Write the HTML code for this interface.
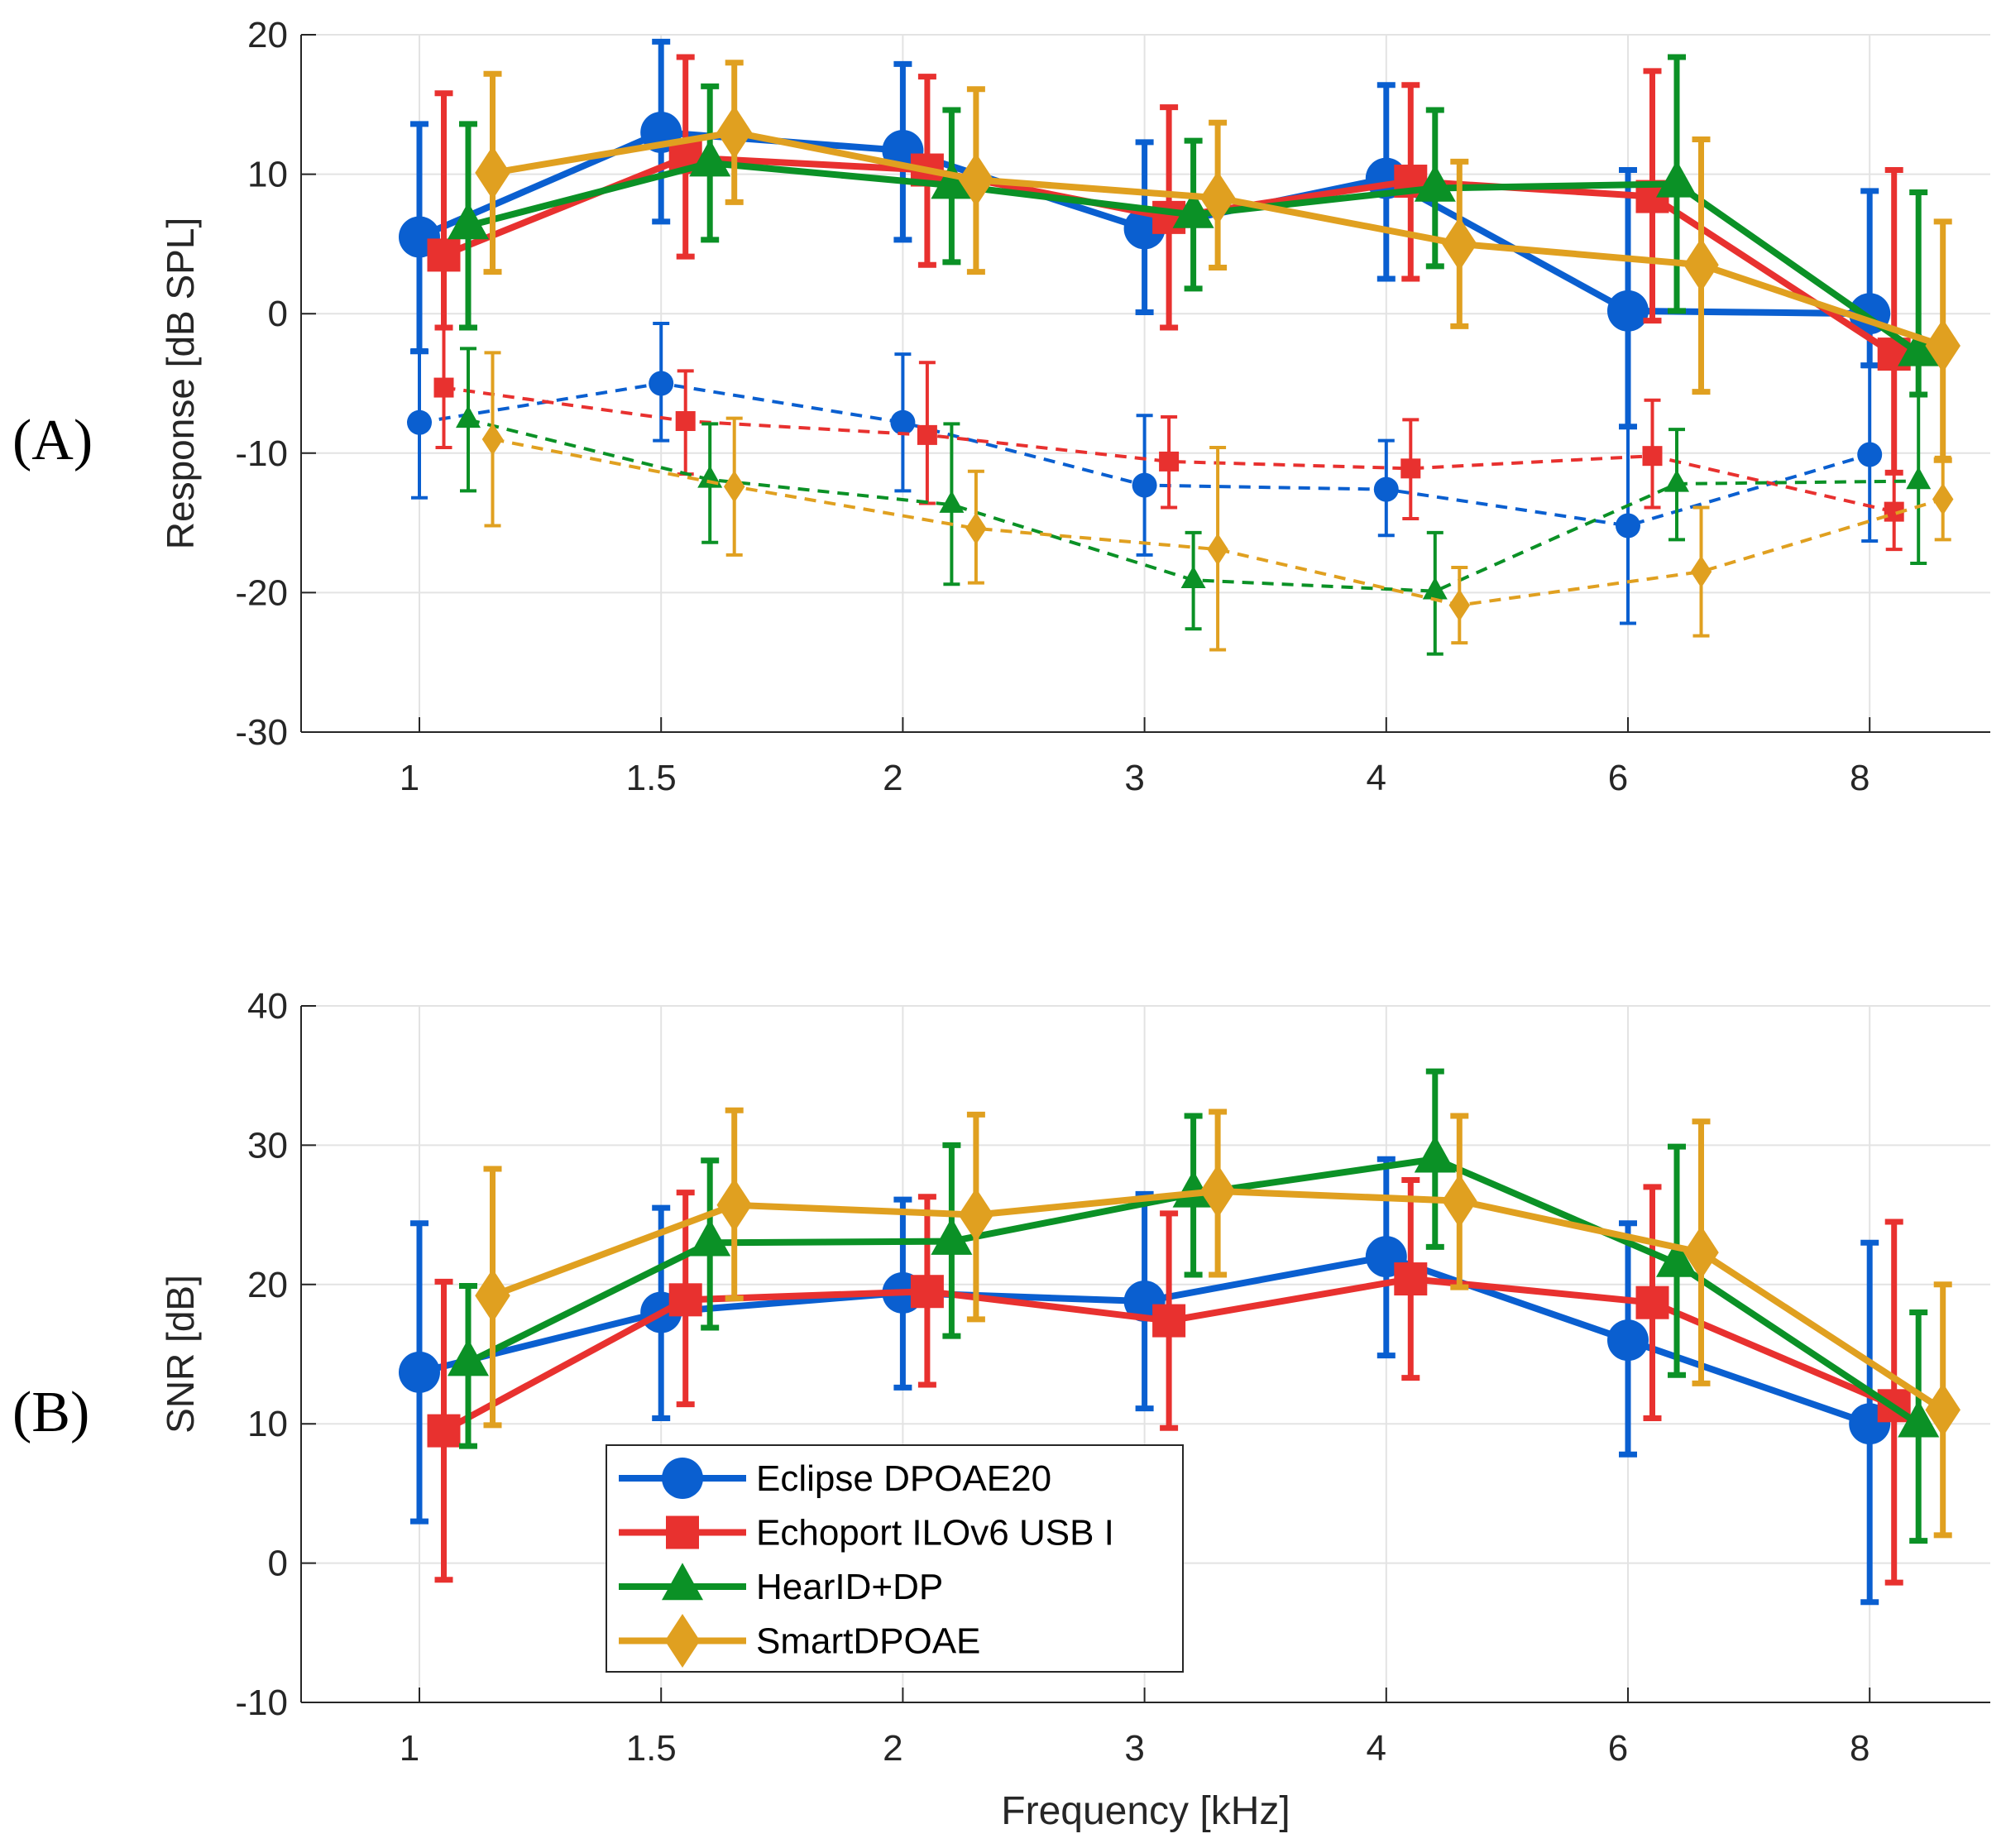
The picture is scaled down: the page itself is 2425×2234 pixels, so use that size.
<!DOCTYPE html>
<html><head><meta charset="utf-8"><style>
html,body{margin:0;padding:0;background:#fff;}
svg{display:block;font-family:"Liberation Sans",sans-serif;}
</style></head><body>
<svg id="fig" width="2425" height="2234" viewBox="0 0 2425 2234" xmlns="http://www.w3.org/2000/svg"></svg>
<script>
const categories = ["1","1.5","2","3","4","6","8"];
const seriesNames = ["Eclipse DPOAE20","Echoport ILOv6 USB I","HearID+DP","SmartDPOAE"];
const yTicksA = [20,10,0,-10,-20,-30];
const yTicksB = [40,30,20,10,0,-10];
// Panel A, solid (response)
const aBlue = [5.5,13,11.7,6.1,9.7,0.2,0];
const aBlueLo = [-2.7,6.6,5.3,0.1,2.5,-8.1,-3.7];
const aBlueHi = [13.6,19.5,17.9,12.3,16.4,10.3,8.8];
const aRed = [4.2,11.2,10.3,6.9,9.5,8.4,-2.9];
const aRedLo = [-1,4.1,3.5,-1,2.5,-0.5,-11.4];
const aRedHi = [15.8,18.4,17,14.8,16.4,17.4,10.3];
const aGreen = [6.3,10.8,9.2,7.1,9,9.3,-2.8];
const aGreenLo = [-1,5.3,3.7,1.8,3.4,0.2,-5.8];
const aGreenHi = [13.6,16.3,14.6,12.4,14.6,18.4,8.7];
const aGold = [10.1,13,9.6,8.3,5,3.5,-2.3];
const aGoldLo = [3,8,3,3.3,-0.9,-5.6,-10.5];
const aGoldHi = [17.2,18,16.1,13.7,10.9,12.5,6.6];
// Panel A, dashed (noise)
const nBlue = [-7.8,-5,-7.8,-12.3,-12.6,-15.2,-10.1];
const nBlueLo = [-13.2,-9.1,-12.7,-17.3,-15.9,-22.2,-16.3];
const nBlueHi = [-2.6,-0.7,-2.9,-7.3,-9.1,-8.1,-3.8];
const nRed = [-5.3,-7.7,-8.7,-10.6,-11.1,-10.2,-14.2];
const nRedLo = [-9.6,-11.5,-13.6,-13.9,-14.7,-13.9,-16.9];
const nRedHi = [-1,-4.1,-3.5,-7.4,-7.6,-6.2,-11.4];
const nGreen = [-7.6,-11.9,-13.7,-19.1,-19.9,-12.2,-12];
const nGreenLo = [-12.7,-16.4,-19.4,-22.6,-24.4,-16.2,-17.9];
const nGreenHi = [-2.5,-7.9,-7.9,-15.7,-15.7,-8.3,-5.8];
const nGold = [-9,-12.4,-15.4,-16.9,-20.9,-18.5,-13.3];
const nGoldLo = [-15.2,-17.3,-19.3,-24.1,-23.6,-23.1,-16.2];
const nGoldHi = [-2.8,-7.5,-11.3,-9.6,-18.2,-13.9,-10.3];
// Panel B, SNR
const bBlue = [13.7,18,19.4,18.8,22,16,10];
const bBlueLo = [3,10.4,12.6,11.1,14.9,7.8,-2.8];
const bBlueHi = [24.4,25.5,26.1,26.5,29,24.4,23];
const bRed = [9.5,18.9,19.5,17.4,20.4,18.7,11.3];
const bRedLo = [-1.2,11.4,12.8,9.7,13.3,10.4,-1.4];
const bRedHi = [20.2,26.6,26.3,25.1,27.5,27,24.5];
const bGreen = [14.4,23,23.1,26.5,29,21.5,10];
const bGreenLo = [8.4,16.9,16.3,20.7,22.7,13.5,1.6];
const bGreenHi = [19.9,28.9,30,32.1,35.3,29.9,18];
const bGold = [19.2,25.7,25,26.7,26,22.3,11];
const bGoldLo = [9.9,19,17.5,20.7,19.8,12.9,2];
const bGoldHi = [28.3,32.5,32.2,32.4,32.1,31.7,20];

const colors = ["#0a5fd0","#e8312f","#0b9126","#e0a020"];
const shapes = ["circle","square","triangle","diamond"];
const NS = "http://www.w3.org/2000/svg";
const svg = document.getElementById("fig");
function mk(tag, attrs, parent){const e=document.createElementNS(NS,tag);for(const k in attrs)e.setAttribute(k,attrs[k]);(parent||svg).appendChild(e);return e;}

const X0=364, X1=2406, xFirst=507, xStep=292.2, xOff=29.5;
function xPos(i,s){return xFirst+i*xStep+s*xOff;}

function marker(g,shape,x,y,r,color){
  let e;
  if(shape==="circle") e=mk("circle",{cx:x,cy:y,r:r,fill:color},g);
  else if(shape==="square") e=mk("rect",{x:x-r*0.8,y:y-r*0.8,width:r*1.6,height:r*1.6,fill:color},g);
  else if(shape==="triangle") e=mk("polygon",{points:`${x},${y-r*1.15} ${x+r},${y+r*0.65} ${x-r},${y+r*0.65}`,fill:color},g);
  else e=mk("polygon",{points:`${x},${y-r*1.3} ${x+r*0.85},${y} ${x},${y+r*1.3} ${x-r*0.85},${y}`,fill:color},g);
  
  
}

function axes(name,top,bot,ymax,ymin,ticks,ytitle,panelLabel,labelY){
  const g=mk("g",{});
  
  
  const yS=v=>top+(ymax-v)/(ymax-ymin)*(bot-top);
  for(const t of ticks){
    const l=mk("line",{x1:X0,x2:X1,y1:yS(t),y2:yS(t),stroke:"#e3e3e3","stroke-width":2},g);
    
    
    mk("line",{x1:X0,x2:X0+18,y1:yS(t),y2:yS(t),stroke:"#262626","stroke-width":2},g);
    const tx=mk("text",{x:X0-16,y:yS(t)+15,"text-anchor":"end","font-size":44,fill:"#262626"},g);
    tx.textContent=t;
    
    
  }
  categories.forEach((c,i)=>{
    const x=xPos(i,0);
    const l=mk("line",{x1:x,x2:x,y1:top,y2:bot,stroke:"#e3e3e3","stroke-width":2},g);
    
    
    mk("line",{x1:x,x2:x,y1:bot,y2:bot-18,stroke:"#262626","stroke-width":2},g);
    const tx=mk("text",{x:x-12,y:bot+70,"text-anchor":"middle","font-size":44,fill:"#262626"},g);
    tx.textContent=c;
    
    
  });
  mk("line",{x1:X0,x2:X0,y1:top,y2:bot,stroke:"#262626","stroke-width":2},g);
  mk("line",{x1:X0,x2:X1,y1:bot,y2:bot,stroke:"#262626","stroke-width":2},g);
  const yt=mk("text",{x:0,y:0,transform:`translate(234,${(top+bot)/2}) rotate(-90)`,"text-anchor":"middle","font-size":46,fill:"#262626"},g);
  yt.textContent=ytitle;
  
  
  const pl=mk("text",{x:15,y:labelY,"font-family":"Liberation Serif, serif","font-size":70,fill:"#000"},g);
  pl.textContent=panelLabel;
  
  
  return yS;
}

function series(name,yS,vals,lo,hi,s,dashed){
  const g=mk("g",{});
  
  
  const c=colors[s];
  const lw=dashed?4:8, ew=dashed?4:7, r=dashed?15:25, cap=dashed?10:11;
  vals.forEach((v,i)=>{
    const x=xPos(i,s);
    const e=mk("line",{x1:x,x2:x,y1:yS(lo[i]),y2:yS(hi[i]),stroke:c,"stroke-width":ew},g);
    
    
    mk("line",{x1:x-cap,x2:x+cap,y1:yS(lo[i]),y2:yS(lo[i]),stroke:c,"stroke-width":ew},g);
    mk("line",{x1:x-cap,x2:x+cap,y1:yS(hi[i]),y2:yS(hi[i]),stroke:c,"stroke-width":ew},g);
  });
  const pts=vals.map((v,i)=>xPos(i,s)+","+yS(v)).join(" ");
  const pl=mk("polyline",{points:pts,fill:"none",stroke:c,"stroke-width":lw,"stroke-linejoin":"round"},g);
  if(dashed) pl.setAttribute("stroke-dasharray","14 10");
  
  
  vals.forEach((v,i)=>marker(g,shapes[s],xPos(i,s),yS(v),r,c));
}

const yA=axes("panel-a-axes",42,885,20,-30,yTicksA,"Response [dB SPL]","(A)",555);
const yB=axes("panel-b-axes",1216,2058,40,-10,yTicksB,"SNR [dB]","(B)",1730);

series("noise-eclipse",yA,nBlue,nBlueLo,nBlueHi,0,true);
series("noise-echoport",yA,nRed,nRedLo,nRedHi,1,true);
series("noise-hearid",yA,nGreen,nGreenLo,nGreenHi,2,true);
series("noise-smartdpoae",yA,nGold,nGoldLo,nGoldHi,3,true);
series("response-eclipse",yA,aBlue,aBlueLo,aBlueHi,0,false);
series("response-echoport",yA,aRed,aRedLo,aRedHi,1,false);
series("response-hearid",yA,aGreen,aGreenLo,aGreenHi,2,false);
series("response-smartdpoae",yA,aGold,aGoldLo,aGoldHi,3,false);
series("snr-eclipse",yB,bBlue,bBlueLo,bBlueHi,0,false);
series("snr-echoport",yB,bRed,bRedLo,bRedHi,1,false);
series("snr-hearid",yB,bGreen,bGreenLo,bGreenHi,2,false);
series("snr-smartdpoae",yB,bGold,bGoldLo,bGoldHi,3,false);

const xt=mk("text",{x:1385,y:2205,"text-anchor":"middle","font-size":48,fill:"#262626"});
xt.textContent="Frequency [kHz]";



// legend
const lg=mk("g",{});


mk("rect",{x:733,y:1747,width:697,height:274,fill:"#fff",stroke:"#262626","stroke-width":2},lg);
seriesNames.forEach((n,s)=>{
  const y=1787+s*65.5;
  const e=mk("g",{},lg);
  
  
  mk("line",{x1:748,x2:902,y1:y,y2:y,stroke:colors[s],"stroke-width":8},e);
  marker(e,shapes[s],825,y,25,colors[s]);
  const t=mk("text",{x:914,y:y+15,"font-size":44,fill:"#000"},e);
  t.textContent=n;
});
</script>
</body></html>
